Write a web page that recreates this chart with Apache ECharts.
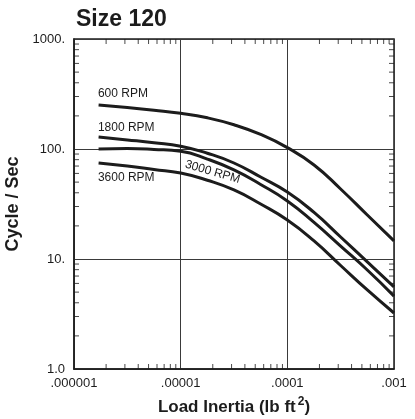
<!DOCTYPE html>
<html><head><meta charset="utf-8">
<script src="https://cdn.jsdelivr.net/npm/echarts@6/dist/echarts.min.js"></script>
<style>html,body{margin:0;padding:0;background:#fff}#c{width:415px;height:419px}</style>
</head><body><div id="c"></div>
<script>
// ---- data ----
const inertia = [1.7e-6, 3.16e-6, 5.62e-6, 1e-5, 1.78e-5, 3.16e-5, 5.62e-5, 1e-4, 1.78e-4, 3.16e-4, 5.62e-4, 1e-3];
const rpm600  = [251, 238, 225, 211, 192, 166, 135.5, 103, 71.6, 43.3, 25.1, 14.6];
const rpm1800 = [128.5, 121, 114, 106, 91.5, 74.6, 55.6, 40.6, 26.5, 15.85, 9.4, 5.57];
const rpm3000 = [100, 101, 99.2, 95.5, 81, 64.5, 47.6, 33.7, 21.5, 13.1, 7.94, 4.6];
const rpm3600 = [74.6, 70, 65.1, 60.5, 52, 42.4, 31.6, 22.6, 14.6, 8.73, 5.23, 3.23];
const seriesNames = ['600 RPM', '1800 RPM', '3000 RPM', '3600 RPM'];
const xTickLabels = ['.000001', '.00001', '.0001', '.001'];
const yTickLabels = ['1.0', '10.', '100.', '1000.'];
const xDecades = [-6, -5, -4];
const yDecades = [0, 1, 2];
const minorSteps = [2, 3, 4, 5, 6, 7, 8, 9];

const FONT = 'Liberation Sans, Arial, Helvetica, sans-serif';
const INK = '#1c1c1c';
const X_MIN = 1e-6, X_MAX = 1e-3, Y_MIN = 1, Y_MAX = 1000;

const xMinor = [], yMinor = [];
xDecades.forEach(d => minorSteps.forEach(k => xMinor.push(k * Math.pow(10, d))));
yDecades.forEach(d => minorSteps.forEach(k => yMinor.push(k * Math.pow(10, d))));

function tickSeries(data, size, offset) {
  return {
    type: 'scatter', data: data, symbol: 'rect', symbolSize: size, symbolOffset: offset,
    itemStyle: { color: INK }, silent: true, clip: false, z: 3, animation: false
  };
}

const curves = [rpm600, rpm1800, rpm3000, rpm3600];
// label anchor placements (data space)
const labelAnchors = [
  { coord: [1.675e-6, 316], position: 'right', rotate: 0 },
  { coord: [1.675e-6, 157], position: 'right', rotate: 0 },
  { coord: [1.99e-5, 61.8], position: 'inside', rotate: -16 },
  { coord: [1.675e-6, 54.5], position: 'right', rotate: 0 }
];

const lineSeries = curves.map((arr, i) => ({
  name: seriesNames[i],
  type: 'line',
  data: inertia.map((x, j) => [x, arr[j]]),
  smooth: 0.5,
  symbol: 'none',
  lineStyle: { color: INK, width: 3 },
  z: 4,
  animation: false,
  markPoint: {
    symbol: 'circle', symbolSize: 0, silent: true, animation: false,
    data: [{
      coord: labelAnchors[i].coord,
      label: {
        show: true, formatter: seriesNames[i], position: labelAnchors[i].position,
        distance: 0, rotate: labelAnchors[i].rotate,
        fontSize: 12, color: INK, fontFamily: FONT
      }
    }]
  }
}));

const chart = echarts.init(document.getElementById('c'), null, { renderer: 'canvas' });
chart.setOption({
  animation: false,
  backgroundColor: '#fff',
  title: {
    text: 'Size 120', left: 71, top: 3,
    textStyle: { fontSize: 23, fontWeight: 'bold', color: INK, fontFamily: FONT }
  },
  grid: {
    left: 74, right: 21, top: 39, bottom: 50,
    containLabel: false, outerBoundsMode: 'none',
    show: true, borderColor: INK, borderWidth: 1.5, backgroundColor: 'transparent'
  },
  xAxis: {
    type: 'log', logBase: 10, min: X_MIN, max: X_MAX,
    axisLine: { show: true, lineStyle: { color: INK, width: 1.5 } },
    axisTick: { show: false },
    axisLabel: {
      fontSize: 13, color: INK, fontFamily: FONT, margin: 8,
      formatter: v => xTickLabels[Math.round(Math.log10(v)) + 6]
    },
    splitLine: { show: true, lineStyle: { color: '#3a3a3a', width: 1 } },
    name: '{a|Load Inertia (lb ft}{s|2}{a|)}',
    nameLocation: 'middle', nameGap: 27,
    nameTextStyle: {
      rich: {
        a: { fontSize: 17, fontWeight: 'bold', color: INK, fontFamily: FONT, lineHeight: 22 },
        s: { fontSize: 12, fontWeight: 'bold', color: INK, fontFamily: FONT, lineHeight: 14, verticalAlign: 'top', padding: [0, 0, 0, 2] }
      }
    }
  },
  yAxis: {
    type: 'log', logBase: 10, min: Y_MIN, max: Y_MAX,
    axisLine: { show: true, lineStyle: { color: INK, width: 1.5 } },
    axisTick: { show: false },
    axisLabel: {
      fontSize: 13, color: INK, fontFamily: FONT, margin: 9,
      formatter: v => yTickLabels[Math.round(Math.log10(v))]
    },
    splitLine: { show: true, lineStyle: { color: '#3a3a3a', width: 1 } },
    name: 'Cycle / Sec',
    nameLocation: 'middle', nameGap: 47,
    nameTextStyle: { fontSize: 18, fontWeight: 'bold', color: INK, fontFamily: FONT }
  },
  series: [
    tickSeries(xMinor.map(v => [v, Y_MIN]), [1, 5], [0, -2.5]),
    tickSeries(xMinor.map(v => [v, Y_MAX]), [1, 5], [0, 2.5]),
    tickSeries(yMinor.map(v => [X_MIN, v]), [5, 1], [2.5, 0]),
    tickSeries(yMinor.map(v => [X_MAX, v]), [5, 1], [-2.5, 0])
  ].concat(lineSeries)
});
</script>
</body></html>
